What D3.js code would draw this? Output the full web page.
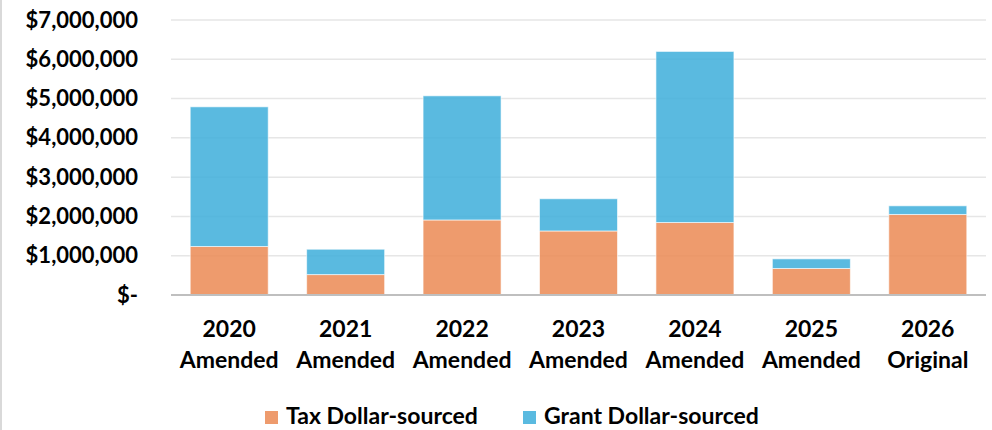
<!DOCTYPE html>
<html>
<head>
<meta charset="utf-8">
<script src="https://cdn.jsdelivr.net/npm/d3@7"></script>
<style>
  body { margin: 0; background: #fff; }
  svg text { font-family: Lato, "Open Sans", sans-serif; font-weight: bold; fill: #000; }
</style>
</head>
<body>
<div id="chart"></div>
<script>
// budget years and the two stacked funding sources
const years = ["2020", "2021", "2022", "2023", "2024", "2025", "2026"];
const kinds = ["Amended", "Amended", "Amended", "Amended", "Amended", "Amended", "Original"];
const taxDollars = [1235000, 520000, 1910000, 1630000, 1845000, 675000, 2050000];
const grantDollars = [3555000, 645000, 3160000, 820000, 4355000, 245000, 220000];
const seriesNames = ["Tax Dollar-sourced", "Grant Dollar-sourced"];
const yTicks = [0, 1000000, 2000000, 3000000, 4000000, 5000000, 6000000, 7000000];

const width = 992, height = 430;
const margin = {top: 20, right: 6, bottom: 135, left: 171};
const colors = ["#EB8954", "#3DAEDA"];

const svg = d3.select("#chart").append("svg")
    .attr("width", width)
    .attr("height", height);

// chart area border on the left
svg.append("line")
    .attr("x1", 1).attr("x2", 1)
    .attr("y1", 0).attr("y2", height)
    .attr("stroke", "#d9d9d9")
    .attr("stroke-width", 2);

const g = svg.append("g")
    .attr("transform", `translate(${margin.left},${margin.top})`);

const w = width - margin.left - margin.right;
const h = height - margin.top - margin.bottom;

const x = d3.scaleBand()
    .domain(years)
    .range([0, w])
    .paddingInner(0.33)
    .paddingOuter(0.165);

const y = d3.scaleLinear()
    .domain([0, 7000000])
    .range([h, 0]);

// gridlines
g.append("g")
    .selectAll("line")
    .data(yTicks.slice(1))
    .join("line")
    .attr("x1", 0).attr("x2", w)
    .attr("y1", d => y(d)).attr("y2", d => y(d))
    .attr("stroke", "#e6e6e6")
    .attr("stroke-width", 1.5);

const fmt = d3.format("$,");
const yAxis = g.append("g")
    .call(d3.axisLeft(y)
        .tickValues(yTicks)
        .tickSize(0)
        .tickPadding(33)
        .tickFormat(d => d === 0 ? "$-" : fmt(d)));
yAxis.select(".domain").remove();
yAxis.selectAll("text")
    .attr("font-size", 22)
    .attr("font-family", "Lato, sans-serif")
    .attr("font-weight", "bold");

const rows = years.map((yr, i) => ({year: yr, tax: taxDollars[i], grant: grantDollars[i]}));
const stack = d3.stack().keys(["tax", "grant"])(rows);

g.append("g")
    .selectAll("g")
    .data(stack)
    .join("g")
    .attr("fill", (d, i) => colors[i])
    .attr("fill-opacity", 0.85)
    .selectAll("rect")
    .data(d => d)
    .join("rect")
    .attr("x", d => x(d.data.year))
    .attr("width", x.bandwidth())
    .attr("y", d => y(d[1]))
    .attr("height", d => y(d[0]) - y(d[1]))
    .attr("stroke", "#ffffff")
    .attr("stroke-opacity", 0.6)
    .attr("stroke-width", 1);

// baseline
g.append("line")
    .attr("x1", 0).attr("x2", w)
    .attr("y1", y(0)).attr("y2", y(0))
    .attr("stroke", "#bfbfbf")
    .attr("stroke-width", 2);

// two-line category labels
const xLabels = g.append("g")
    .selectAll("text")
    .data(years)
    .join("text")
    .attr("x", d => x(d) + x.bandwidth() / 2)
    .attr("text-anchor", "middle")
    .attr("font-size", 23);
xLabels.append("tspan")
    .attr("x", d => x(d) + x.bandwidth() / 2)
    .attr("y", h + 42)
    .text(d => d);
xLabels.append("tspan")
    .attr("x", d => x(d) + x.bandwidth() / 2)
    .attr("y", h + 73)
    .text((d, i) => kinds[i]);

// legend
const legendX = [265, 523];
const legend = svg.append("g")
    .selectAll("g")
    .data(seriesNames)
    .join("g")
    .attr("transform", (d, i) => `translate(${legendX[i]},411)`);
legend.append("rect")
    .attr("width", 13)
    .attr("height", 13)
    .attr("fill", (d, i) => colors[i])
    .attr("fill-opacity", 0.85);
legend.append("text")
    .attr("x", 21)
    .attr("y", 13)
    .attr("font-size", 23)
    .text(d => d);
</script>
</body>
</html>
